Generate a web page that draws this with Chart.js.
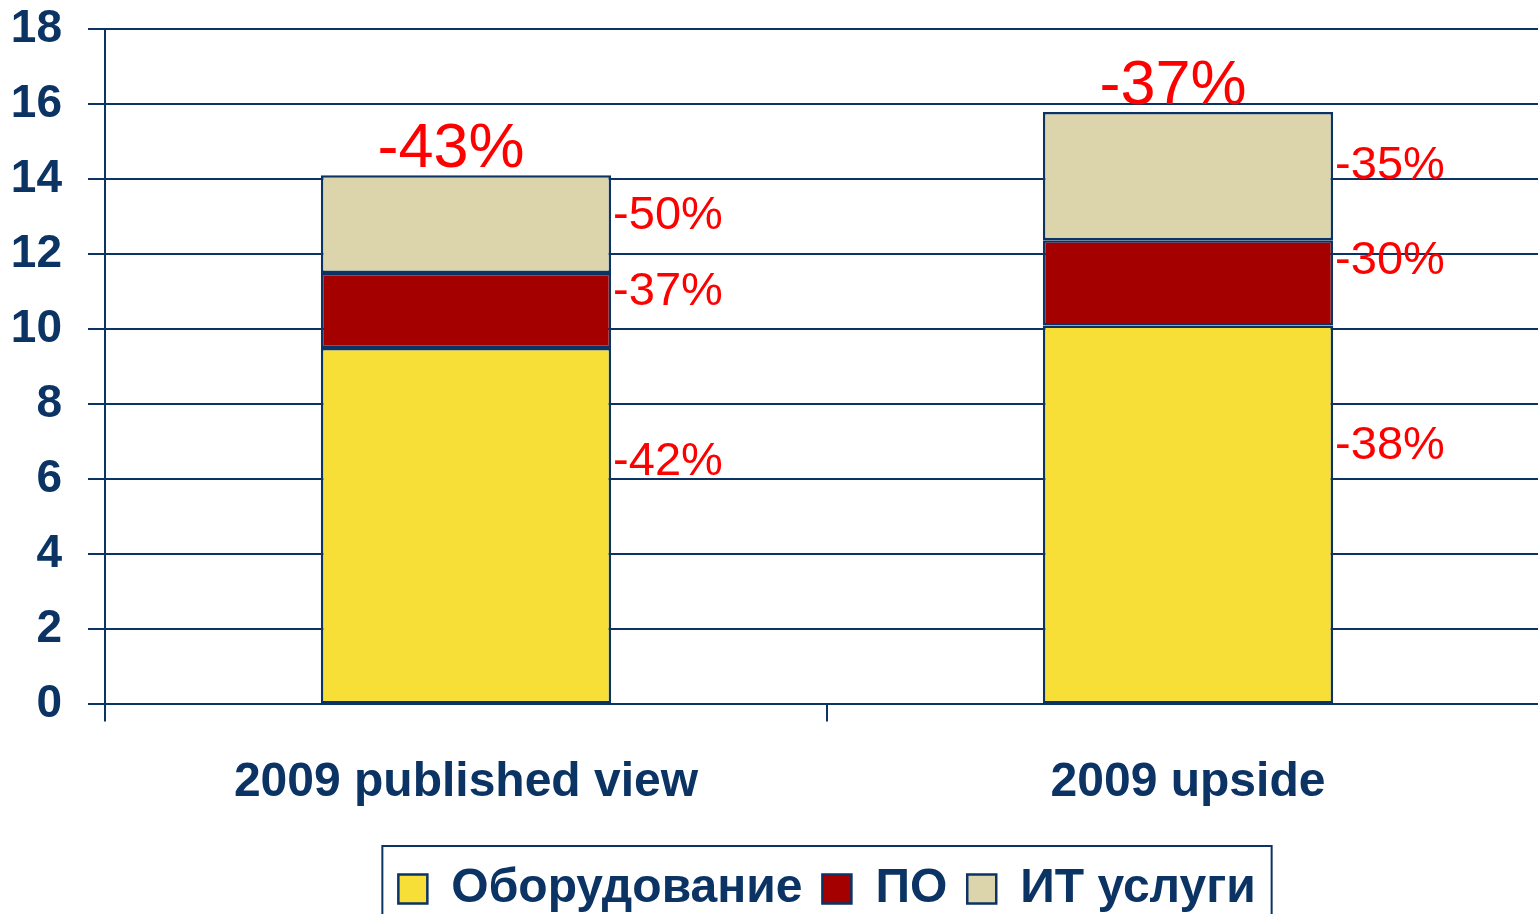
<!DOCTYPE html>
<html>
<head>
<meta charset="utf-8">
<script src="https://cdn.jsdelivr.net/npm/chart.js@4"></script>
<style>
  html, body { margin: 0; padding: 0; background: #fff; overflow: hidden; }
  #wrap { width: 1549px; height: 923px; position: relative; }
</style>
</head>
<body>
<div id="wrap"><canvas id="chartIT"></canvas></div>
<script>
const categories = ['2009 published view', '2009 upside'];
const hardware = [9.5, 10.1];
const software = [2.0, 2.27];
const services = [2.6, 3.42];
const hardwareChange = ['-42%', '-38%'];
const softwareChange = ['-37%', '-30%'];
const servicesChange = ['-50%', '-35%'];
const totalChange = ['-43%', '-37%'];
const yMin = 0, yMax = 18, yStep = 2;

const navy = '#0b3364';
const FONT = '"Liberation Sans", Arial, sans-serif';

// where the side label sits inside its segment (fraction from top)
const labelAnchor = [0.32, 0.25, 0.42];
const changes = [hardwareChange, softwareChange, servicesChange];

const pctLabels = {
    id: 'pctLabels',
    afterDatasetsDraw(chart) {
        const ctx = chart.ctx;
        ctx.save();
        ctx.fillStyle = '#ff0000';
        ctx.textAlign = 'left';
        ctx.textBaseline = 'middle';
        ctx.font = '47px ' + FONT;
        chart.data.datasets.forEach((ds, di) => {
            chart.getDatasetMeta(di).data.forEach((bar, i) => {
                const top = Math.min(bar.y, bar.base);
                const h = Math.abs(bar.base - bar.y);
                ctx.fillText(changes[di][i], bar.x + bar.width / 2 + 2, top + h * labelAnchor[di]);
            });
        });
        // totals above stacks
        ctx.textAlign = 'center';
        ctx.textBaseline = 'alphabetic';
        ctx.font = '63px ' + FONT;
        const last = chart.getDatasetMeta(chart.data.datasets.length - 1).data;
        last.forEach((bar, i) => {
            ctx.fillText(totalChange[i], bar.x - 15, bar.y - 8);
        });
        ctx.restore();
    }
};

const legendBorder = {
    id: 'legendBorder',
    afterDraw(chart) {
        const boxes = chart.legend.legendHitBoxes;
        if (!boxes || !boxes.length) return;
        const left = Math.min(...boxes.map(b => b.left)) - 16;
        const right = Math.max(...boxes.map(b => b.left + b.width)) + 16;
        const cy = boxes[0].top + boxes[0].height / 2;
        const ctx = chart.ctx;
        ctx.save();
        ctx.strokeStyle = navy;
        ctx.lineWidth = 2;
        ctx.strokeRect(left, cy - 43, right - left, 86);
        ctx.restore();
    }
};

const ctx = document.getElementById('chartIT').getContext('2d');
const chartIT = new Chart(ctx, {
    type: 'bar',
    data: {
        labels: categories,
        datasets: [
            { label: 'Оборудование', data: hardware, backgroundColor: '#f7df37' },
            { label: 'ПО', data: software, backgroundColor: '#a50000' },
            { label: 'ИТ услуги', data: services, backgroundColor: '#dcd5ac' }
        ].map(d => Object.assign(d, {
            borderColor: navy,
            borderWidth: 2.5,
            borderSkipped: false,
            categoryPercentage: 1,
            barPercentage: 0.402
        }))
    },
    options: {
        responsive: true,
        maintainAspectRatio: false,
        animation: false,
        layout: { padding: 0 },
        plugins: {
            tooltip: { enabled: false },
            legend: {
                position: 'bottom',
                fullSize: false,
                labels: {
                    color: navy,
                    font: { family: FONT, size: 48, weight: 'bold' },
                    boxWidth: 29,
                    boxHeight: 29,
                    padding: 20
                }
            }
        },
        scales: {
            x: {
                stacked: true,
                grid: {
                    display: true,
                    drawOnChartArea: false,
                    offset: true,
                    color: navy,
                    lineWidth: 2,
                    tickLength: 17
                },
                border: { color: navy, width: 2 },
                ticks: {
                    color: navy,
                    padding: 33,
                    font: { family: FONT, size: 48, weight: 'bold' }
                }
            },
            y: {
                stacked: true,
                min: yMin,
                max: yMax,
                afterFit(scale) {
                    scale.width = 105;
                    scale.paddingTop = 29;
                },
                grid: {
                    color: navy,
                    lineWidth: 2,
                    tickLength: 17
                },
                border: { color: navy, width: 2 },
                ticks: {
                    stepSize: yStep,
                    color: navy,
                    padding: 26,
                    font: { family: FONT, size: 46, weight: 'bold' }
                }
            }
        }
    },
    plugins: [pctLabels, legendBorder]
});
</script>
</body>
</html>
